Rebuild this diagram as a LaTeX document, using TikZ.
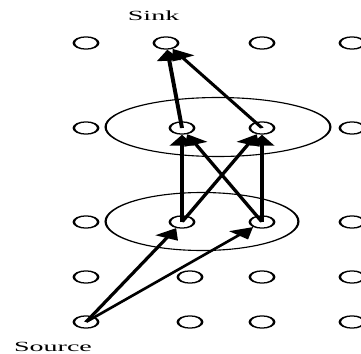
\documentclass[tikz,border=0pt]{standalone}
\usepackage{fontspec}
\setmainfont{Liberation Serif}
\usetikzlibrary{shapes.geometric,arrows.meta}
\begin{document}
\begin{tikzpicture}[x=1pt,y=-1pt,
  dot/.style={draw,circle,line width=1.25pt,minimum size=12.2pt,inner sep=0pt},
  flow/.style={line width=2pt,-{Triangle[length=11pt,width=12pt]}},
  group/.style={line width=1.1pt},
  lbl/.style={font=\fontsize{14}{14}\selectfont,anchor=base,inner sep=0pt}]
\useasboundingbox (0,0) rectangle (361,353);
\begin{scope}[transform canvas={xscale=2}]
% row 1
\node[dot] (a1) at (43,43) {};
\node[dot] (a2) at (83,43) {};
\node[dot] (a3) at (131,43) {};
\node[dot] (a4) at (176,43) {};
% row 2
\node[dot] (b1) at (43,128) {};
\node[dot] (b2) at (91,128) {};
\node[dot] (b3) at (131,128) {};
\node[dot] (b4) at (176,128) {};
% row 3
\node[dot] (c1) at (43,222) {};
\node[dot] (c2) at (91,222) {};
\node[dot] (c3) at (131,222) {};
\node[dot] (c4) at (176,222) {};
% row 4
\node[dot] (d1) at (43,277) {};
\node[dot] (d2) at (95,277) {};
\node[dot] (d3) at (131,277) {};
\node[dot] (d4) at (176,277) {};
% row 5
\node[dot] (e1) at (43,322) {};
\node[dot] (e2) at (95,322) {};
\node[dot] (e3) at (131,322) {};
\node[dot] (e4) at (176,322) {};
% groups
\draw[group] (109,127) ellipse [x radius=56.2, y radius=29.5];
\draw[group] (101,221.5) ellipse [x radius=48.2, y radius=29];
% labels
\node[lbl] (sink) at (76.8,21) {Sink};
\node[lbl] (source) at (26.5,351) {Source};
% arrows
\draw[flow] (b2.center) -- (a2);
\draw[flow] (b3.center) -- (a2);
\draw[flow] (c2.center) -- (b2);
\draw[flow] (c3.center) -- (b3);
\draw[flow] (c2.center) -- (b3);
\draw[flow] (c3.center) -- (b2);
\draw[flow] (e1.center) -- (c2);
\draw[flow] (e1.center) -- (c3);
\end{scope}
\end{tikzpicture}
\end{document}
